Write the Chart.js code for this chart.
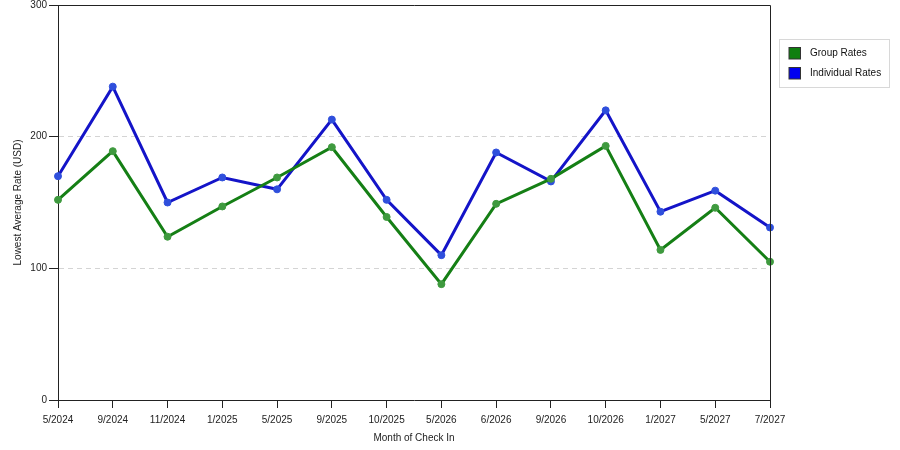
<!DOCTYPE html>
<html>
<head>
<meta charset="utf-8">
<script src="https://cdn.jsdelivr.net/npm/chart.js@4/dist/chart.umd.min.js"></script>
<style>
  html, body { margin: 0; padding: 0; background: #fff; }
  #wrap { width: 900px; height: 450px; }
</style>
</head>
<body>
<div id="wrap"><canvas id="rateChart" width="900" height="450"></canvas></div>
<script>
// Monate und Raten
const months = ['5/2024', '9/2024', '11/2024', '1/2025', '5/2025', '9/2025', '10/2025',
                '5/2026', '6/2026', '9/2026', '10/2026', '1/2027', '5/2027', '7/2027'];
const groupRates = [152, 189, 124, 147, 169, 192, 139, 88, 149, 168, 193, 114, 146, 105];
const individualRates = [170, 238, 150, 169, 160, 213, 152, 110, 188, 166, 220, 143, 159, 131];
const yTicks = [0, 100, 200, 300];

const seriesNames = ['Group Rates', 'Individual Rates'];
const lineColors = ['#157f15', '#1414c8'];
const pointColors = ['#3f9a3f', '#2f4fdc'];
const boxColors = ['#0f7f0f', '#0000f0'];

const baseFont = { family: 'Liberation Sans', size: 10 };

// Rahmen oben und rechts um die Zeichenfläche
const frameBorder = {
    id: 'frameBorder',
    afterDraw(chart) {
        const { ctx, chartArea: a } = chart;
        ctx.save();
        ctx.strokeStyle = '#222';
        ctx.lineWidth = 1;
        ctx.beginPath();
        ctx.moveTo(a.left, a.top + 0.5);
        ctx.lineTo(a.right + 0.5, a.top + 0.5);
        ctx.lineTo(a.right + 0.5, a.bottom);
        ctx.stroke();
        ctx.restore();
    }
};

// Legende als Kasten rechts oben
const boxLegend = {
    id: 'boxLegend',
    afterDraw(chart) {
        const ctx = chart.ctx;
        const x = chart.chartArea.right + 9.5;
        const y = 39.5;
        ctx.save();
        ctx.strokeStyle = '#d8d8d8';
        ctx.lineWidth = 1;
        ctx.strokeRect(x, y, 110, 48);
        ctx.font = '10px "Liberation Sans"';
        ctx.textBaseline = 'middle';
        chart.data.datasets.forEach((ds, i) => {
            const top = 47 + i * 20;
            ctx.fillStyle = boxColors[i];
            ctx.fillRect(x + 9.5, top, 12, 12);
            ctx.strokeStyle = '#333';
            ctx.strokeRect(x + 9.5, top + 0.5, 11.5, 11.5);
            ctx.fillStyle = '#111';
            ctx.fillText(ds.label, x + 30.5, top + 6.5);
        });
        ctx.restore();
    }
};

const ctx = document.getElementById('rateChart').getContext('2d');
new Chart(ctx, {
    type: 'line',
    data: {
        labels: months,
        datasets: [groupRates, individualRates].map((values, i) => ({
            label: seriesNames[i],
            data: values,
            borderColor: lineColors[i],
            borderWidth: 3,
            pointRadius: 3.5,
            pointBackgroundColor: pointColors[i],
            pointBorderColor: pointColors[i],
            pointBorderWidth: 1,
            tension: 0,
            fill: false
        }))
    },
    options: {
        responsive: false,
        animation: false,
        events: [],
        layout: { padding: { top: 4, right: 130, left: 0, bottom: 0 } },
        plugins: {
            legend: { display: false },
            tooltip: { enabled: false }
        },
        scales: {
            x: {
                offset: false,
                afterFit: s => { s.height = 50; },
                grid: {
                    drawOnChartArea: false,
                    drawTicks: true,
                    tickLength: 8,
                    tickColor: '#222'
                },
                border: { color: '#222', width: 1 },
                ticks: {
                    color: '#222',
                    font: baseFont,
                    padding: 6,
                    maxRotation: 0,
                    autoSkip: false
                },
                title: {
                    display: true,
                    text: 'Month of Check In',
                    color: '#222',
                    font: baseFont,
                    padding: { top: 0, bottom: 6 }
                }
            },
            y: {
                min: 0,
                max: 300,
                afterFit: s => { s.width = 58; s.paddingTop = 0; s.paddingBottom = 0; },
                afterBuildTicks: s => { s.ticks = yTicks.map(v => ({ value: v })); },
                grid: {
                    color: c => (c.tick && (c.tick.value === 100 || c.tick.value === 200)) ? '#d4d4d4' : 'rgba(0,0,0,0)',
                    drawTicks: true,
                    tickLength: 9,
                    tickColor: '#222'
                },
                border: { color: '#222', width: 1, dash: [5, 4] },
                ticks: {
                    color: '#222',
                    font: baseFont,
                    padding: 2
                },
                title: {
                    display: true,
                    text: 'Lowest Average Rate (USD)',
                    color: '#222',
                    font: baseFont,
                    padding: { top: 12, bottom: 0 }
                }
            }
        }
    },
    plugins: [frameBorder, boxLegend]
});
</script>
</body>
</html>
